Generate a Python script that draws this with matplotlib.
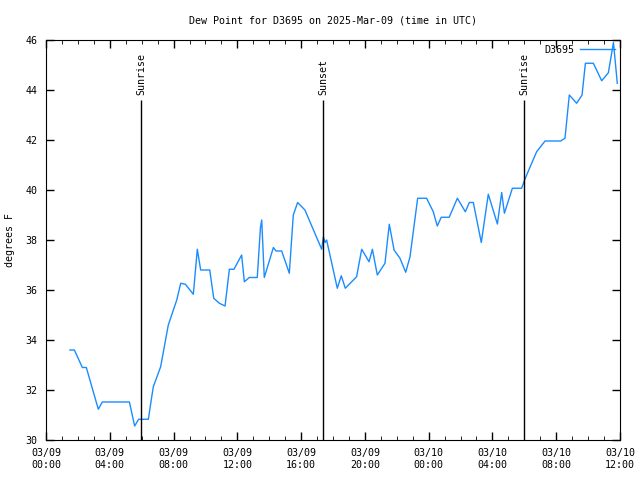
import numpy as np
import matplotlib
matplotlib.use("Agg")
import matplotlib.pyplot as plt

# hours since 2025-03-09 00:00 UTC, dew point in F
hours = [1.5, 1.78, 2.28, 2.53, 3.28, 3.53, 5.23, 5.56, 5.81, 6.42, 6.6, 6.73,
         7.19, 7.67, 8.2, 8.45, 8.74, 9.24, 9.49, 9.7, 10.27, 10.52, 10.87, 11.23,
         11.5, 11.79, 12.27, 12.44, 12.75, 13.25, 13.45, 13.53, 13.69, 14.26, 14.43,
         14.78, 15.26, 15.51, 15.78, 16.24, 17.29, 17.4, 17.5, 17.6, 18.27, 18.52,
         18.77, 19.48, 19.8, 20.26, 20.47, 20.78, 21.26, 21.53, 21.83, 22.2, 22.56,
         22.83, 23.31, 23.87, 24.29, 24.54, 24.79, 25.29, 25.8, 26.3, 26.55, 26.8,
         27.3, 27.74, 28.31, 28.58, 28.75, 29.25, 29.83, 30.06, 30.77, 31.3, 32.28,
         32.55, 32.82, 33.28, 33.62, 33.83, 34.33, 34.85, 35.27, 35.59, 35.83]
dewpt = [33.6, 33.6, 32.9, 32.9, 31.23, 31.52, 31.52, 30.56, 30.83, 30.83, 31.6, 32.13,
         32.93, 34.6, 35.6, 36.27, 36.23, 35.83, 37.63, 36.8, 36.8, 35.67, 35.47, 35.36,
         36.83, 36.83, 37.4, 36.33, 36.5, 36.5, 38.5, 38.8, 36.5, 37.7, 37.56,
         37.56, 36.67, 39.0, 39.5, 39.2, 37.63, 38.13, 37.9, 38.0, 36.07, 36.57,
         36.07, 36.53, 37.63, 37.13, 37.63, 36.6, 37.07, 38.63, 37.6, 37.27, 36.71,
         37.33, 39.67, 39.67, 39.13, 38.56, 38.91, 38.91, 39.67, 39.13, 39.5, 39.5,
         37.9, 39.83, 38.64, 39.9, 39.07, 40.07, 40.07, 40.47, 41.53, 41.96, 41.96,
         42.07, 43.8, 43.47, 43.8, 45.07, 45.07, 44.37, 44.69, 45.9, 44.27]

sun_times = [5.96, 17.37, 30.0]
sun_names = ["Sunrise", "Sunset", "Sunrise"]

xticks = np.arange(0, 37, 4)
xlabels = ["03/09\n00:00", "03/09\n04:00", "03/09\n08:00", "03/09\n12:00", "03/09\n16:00",
           "03/09\n20:00", "03/10\n00:00", "03/10\n04:00", "03/10\n08:00", "03/10\n12:00"]

plt.rcParams['font.family'] = ['DejaVu Sans Mono']
plt.rcParams['font.size'] = 7.2

fig = plt.figure(figsize=(6.4, 4.8), dpi=100)
ax = fig.add_axes([46/640, 40/480, 574/640, 400/480])

ax.plot(hours, dewpt, color="#1a8cff", lw=1, label="D3695")

for t, name in zip(sun_times, sun_names):
    ax.vlines(t, 30, 43.6, color="black", lw=1)
    ax.text(t, 43.8, name, rotation=90, ha="center", va="bottom")

ax.set_xlim(0, 36)
ax.set_ylim(30, 46)
ax.set_xticks(xticks)
ax.set_xticklabels(xlabels)
ax.set_xticks(np.arange(0, 37, 1), minor=True)
ax.set_yticks(np.arange(30, 47, 2))
ax.tick_params(direction="in", top=True, right=True, length=6, width=1, pad=6)
ax.tick_params(which="minor", direction="in", top=True, length=3)
ax.set_ylabel("degrees F", labelpad=8)
ax.set_title("Dew Point for D3695 on 2025-Mar-09 (time in UTC)", fontsize=7.2, pad=12)

leg = ax.legend(loc="upper right", frameon=False, handlelength=3.5, markerfirst=False,
                borderaxespad=0.1, handletextpad=0.6)

fig.savefig("out.png", dpi=100)
